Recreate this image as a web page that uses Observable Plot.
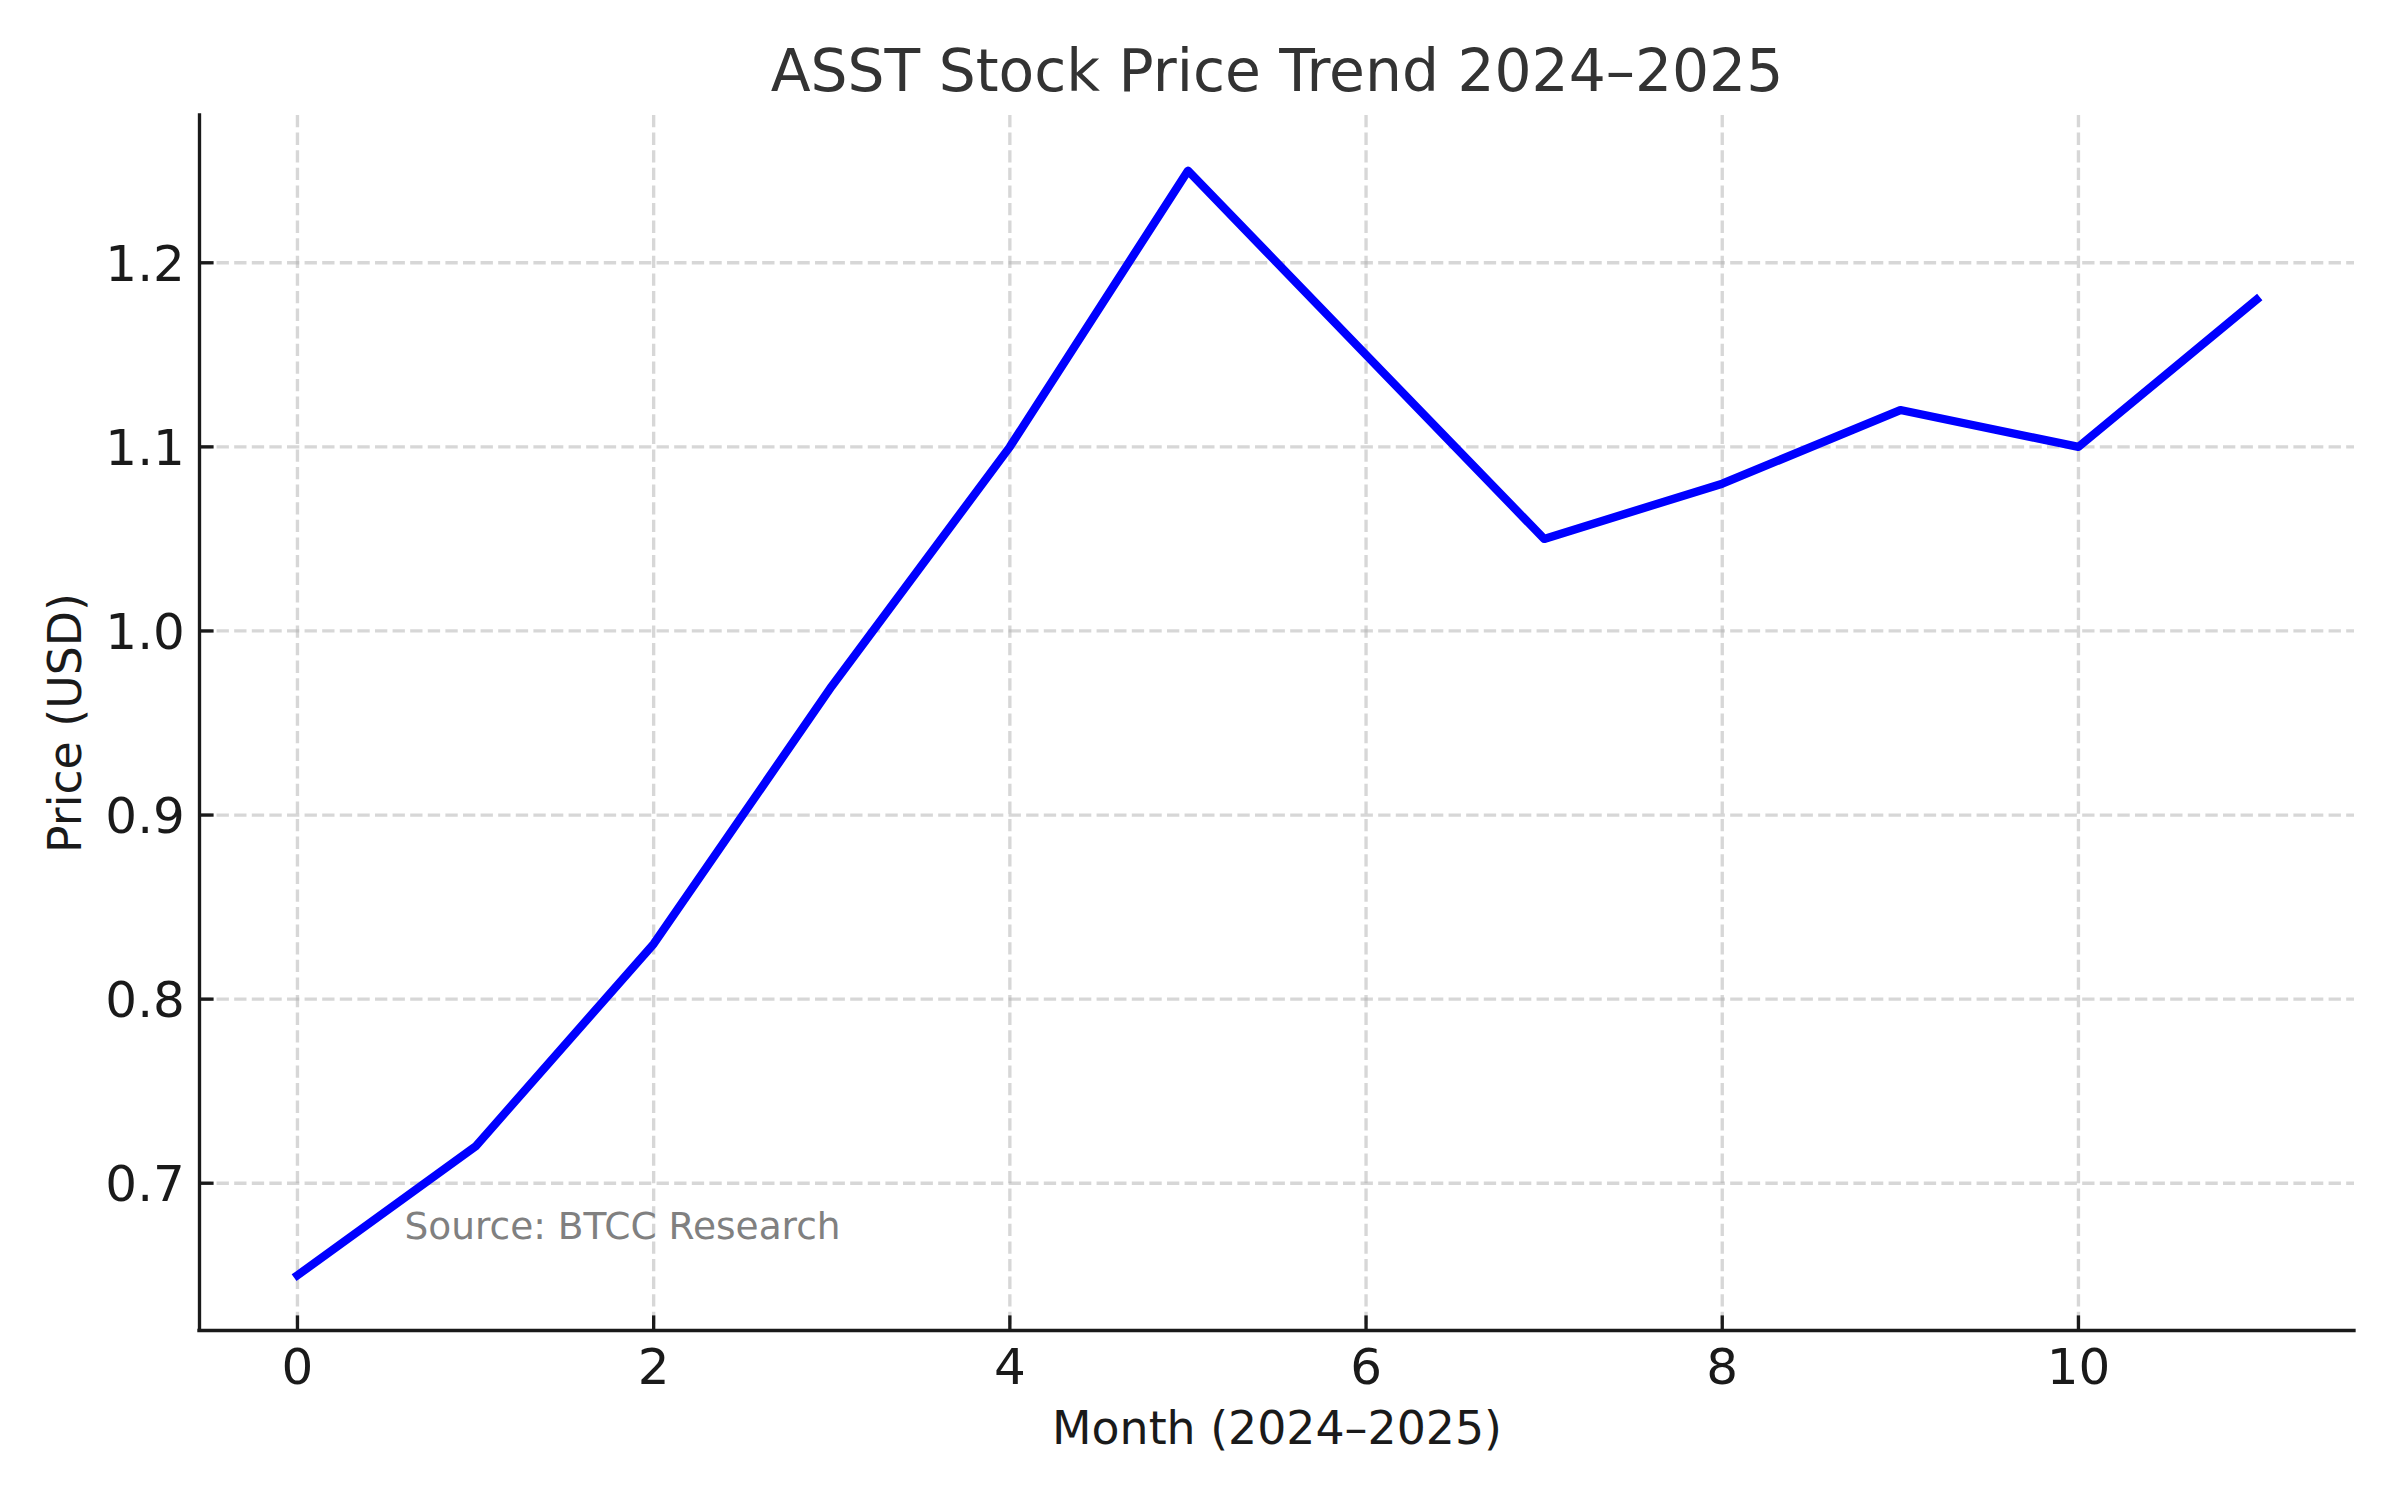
<!DOCTYPE html>
<html>
<head>
<meta charset="utf-8">
<script src="https://cdn.jsdelivr.net/npm/d3@7"></script>
<script src="https://cdn.jsdelivr.net/npm/@observablehq/plot@0.6"></script>
<style>
  html, body { margin: 0; padding: 0; background: #ffffff; }
  #chart svg { display: block; }
</style>
</head>
<body>
<div id="chart"></div>
<script>
// ---- Data ----
const months = [0, 1, 2, 3, 4, 5, 6, 7, 8, 9, 10, 11];
const prices = [0.65, 0.72, 0.83, 0.97, 1.10, 1.25, 1.15, 1.05, 1.08, 1.12, 1.10, 1.18];
const xTicks = [0, 2, 4, 6, 8, 10];
const yTicks = [0.7, 0.8, 0.9, 1.0, 1.1, 1.2];
const titleText = "ASST Stock Price Trend 2024–2025";
const xLabel = "Month (2024–2025)";
const yLabel = "Price (USD)";
const sourceNote = "Source: BTCC Research";

// ---- Build table ----
const data = months.map((m, i) => ({month: m, price: prices[i]}));
const xDomain = [d3.min(months) - 0.05 * (d3.max(months) - d3.min(months)), d3.max(months) + 0.05 * (d3.max(months) - d3.min(months))];
const yDomain = [d3.min(prices) - 0.05 * (d3.max(prices) - d3.min(prices)), d3.max(prices) + 0.05 * (d3.max(prices) - d3.min(prices))];

const textColor = "#1a1a1a";
const gridStyle = {stroke: "#b0b0b0", strokeOpacity: 0.5, strokeWidth: 3.33, strokeDasharray: "12.3,5.3"};

const chart = Plot.plot({
  width: 2400,
  height: 1500,
  marginLeft: 199,
  marginRight: 46,
  marginTop: 115,
  marginBottom: 170,
  style: {fontFamily: "'DejaVu Sans', sans-serif", fontSize: "50px", color: textColor, background: "#ffffff", overflow: "visible"},
  x: {domain: xDomain},
  y: {domain: yDomain},
  marks: [
    Plot.gridX(xTicks, gridStyle),
    Plot.gridY(yTicks, gridStyle),
    Plot.line(data, {x: "month", y: "price", stroke: "#0000ff", strokeWidth: 8.33, strokeLinejoin: "round", strokeLinecap: "square"}),
    // spines
    Plot.ruleX([xDomain[0]], {stroke: "#1a1a1a", strokeWidth: 3.33, strokeLinecap: "square"}),
    Plot.ruleY([yDomain[0]], {stroke: "#1a1a1a", strokeWidth: 3.33, strokeLinecap: "square"}),
    // inward ticks
    Plot.axisX(xTicks, {anchor: "bottom", tickSize: -14.6, fill: "none", stroke: "#1a1a1a", strokeWidth: 3.33, label: null}),
    Plot.axisY(yTicks, {anchor: "left", tickSize: -14.6, fill: "none", stroke: "#1a1a1a", strokeWidth: 3.33, label: null}),
    // tick labels
    Plot.axisX(xTicks, {anchor: "bottom", tickSize: 0, tickPadding: 17.5, fontSize: 50, fill: textColor, label: null, tickFormat: d => String(d)}),
    Plot.axisY(yTicks, {anchor: "left", tickSize: 0, tickPadding: 14.6, dy: 2, fontSize: 50, fill: textColor, label: null, tickFormat: d3.format(".1f")}),
    // axis labels
    Plot.text([xLabel], {text: d => d, frameAnchor: "bottom", lineAnchor: "bottom", dy: 113, fontSize: 45.8, fill: textColor}),
    Plot.text([yLabel], {text: d => d, frameAnchor: "left", textAnchor: "middle", lineAnchor: "bottom", rotate: -90, dx: -119, fontSize: 45.8, fill: textColor}),
    // title
    Plot.text([titleText], {text: d => d, frameAnchor: "top", lineAnchor: "bottom", dy: -25, fontSize: 58.3, fill: "#333333"}),
    // source note
    Plot.text([sourceNote], {text: d => d, frameAnchor: "bottom-left", textAnchor: "start", lineAnchor: "bottom", dx: 205, dy: -92, fontSize: 37.5, fill: "#808080"})
  ]
});

document.getElementById("chart").appendChild(chart);
</script>
</body>
</html>
